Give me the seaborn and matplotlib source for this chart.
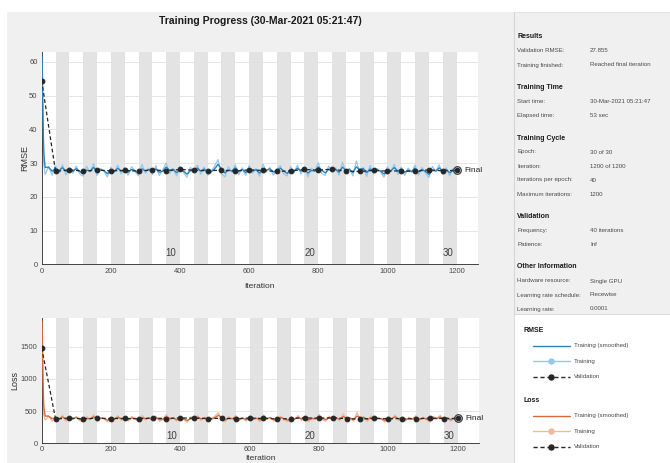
import pandas as pd
import seaborn as sns
import matplotlib
import matplotlib.pyplot as plt
from matplotlib.patches import Rectangle

matplotlib.use('Agg')

# Goal: redraw the MATLAB "Training Progress" window (RMSE + loss curves, info panel)

iters_per_epoch = 40
n_epochs = 30

train_iter = [1, 2, 3, 4, 5, 6, 8] + list(range(10, 1201, 10))

rmse_train = [
    61.5, 52.0, 43.0, 36.0, 31.5, 29.5, 28.2,
    26.6, 28.9, 26.4, 29.2, 27.1, 29.5, 26.5, 28.6, 27.0, 29.1,
    26.8, 26.1, 29.0, 27.3, 29.8, 26.3, 28.4, 27.6, 25.9, 28.8,
    27.2, 29.4, 26.8, 28.7, 26.4, 28.9, 27.5, 26.2, 29.6, 27.0,
    28.5, 26.6, 29.2, 26.3, 27.9, 30.0, 26.9, 28.4, 26.2, 29.0,
    27.2, 25.8, 28.7, 27.6, 29.4, 26.7, 28.8, 26.4, 27.5, 29.1,
    31.0, 26.8, 25.9, 28.9, 27.3, 29.5, 26.6, 28.6, 26.3, 29.3,
    27.0, 28.4, 26.1, 29.7, 27.4, 28.7, 26.4, 28.2, 29.2, 26.8,
    26.2, 29.0, 27.2, 29.4, 26.7, 28.8, 25.9, 28.5, 27.5, 30.1,
    26.9, 26.3, 29.1, 27.3, 28.6, 26.4, 30.3, 27.0, 28.4, 26.2,
    30.6, 27.2, 28.7, 26.0, 29.3, 26.8, 28.4, 27.4, 25.8, 28.9,
    27.6, 29.6, 26.6, 28.8, 26.3, 28.5, 27.2, 29.4, 26.4, 28.7,
    27.0, 25.7, 29.0, 27.5, 29.5, 26.6, 28.6, 26.2, 28.4, 27.6,
]

loss_train = [
    1900, 1350, 925, 650, 495, 435, 398,
    358, 420, 345, 410, 366, 436, 342, 401, 372, 418,
    352, 335, 415, 370, 445, 348, 398, 381, 332, 412,
    372, 430, 356, 405, 344, 416, 380, 338, 434, 362,
    402, 350, 422, 342, 378, 448, 360, 396, 344, 414,
    368, 330, 410, 382, 428, 355, 406, 347, 380, 422,
    472, 357, 334, 414, 374, 432, 352, 400, 343, 426,
    364, 394, 338, 440, 376, 406, 348, 390, 420, 360,
    340, 416, 370, 430, 354, 408, 333, 402, 380, 452,
    362, 346, 420, 374, 404, 349, 458, 366, 396, 342,
    478, 371, 408, 337, 426, 358, 398, 378, 330, 414,
    382, 438, 353, 410, 345, 402, 372, 431, 350, 406,
    366, 326, 418, 380, 434, 355, 403, 343, 396, 376,
]

# validation every 40 iterations
val_iter = list(range(0, 1201, 40))
rmse_val = [54.4, 27.5, 28.0, 27.6, 27.9, 27.7, 27.8, 27.6, 28.0, 27.7, 28.1,
            27.9, 27.7, 27.9, 27.6, 28.0, 27.8, 27.5, 27.7, 28.1, 27.9,
            28.2, 27.6, 27.5, 27.8, 27.6, 27.7, 27.5, 28.0, 27.7, 27.855]
loss_val = [1480, 378, 392, 381, 390, 384, 386, 381, 392, 384, 395,
            389, 384, 389, 381, 392, 386, 378, 384, 395, 389,
            398, 381, 378, 386, 381, 384, 378, 392, 384, 388]

info_sections = [
    ('Results', [('Validation RMSE:', '27.855'),
                 ('Training finished:', 'Reached final iteration')]),
    ('Training Time', [('Start time:', '30-Mar-2021 05:21:47'),
                       ('Elapsed time:', '53 sec')]),
    ('Training Cycle', [('Epoch:', '30 of 30'),
                        ('Iteration:', '1200 of 1200'),
                        ('Iterations per epoch:', '40'),
                        ('Maximum iterations:', '1200')]),
    ('Validation', [('Frequency:', '40 iterations'),
                    ('Patience:', 'Inf')]),
    ('Other Information', [('Hardware resource:', 'Single GPU'),
                           ('Learning rate schedule:', 'Piecewise'),
                           ('Learning rate:', '0.0001')]),
]

BLUE = '#2a84c2'
BLUE_LIGHT = '#94c9ec'
ORANGE = '#dc6a3c'
ORANGE_LIGHT = '#f2b89b'
VAL = '#262626'
BG = '#f0f0f0'


def smooth(values):
    """MATLAB style exponential smoothing of the training curve"""
    return pd.Series(values).ewm(alpha=0.5, adjust=False).mean().values


def draw_panel(ax, y_train, y_val, color, color_light, ylim, yticks, ylabel, ep_y):
    """draw one training progress axes (bands, raw, smoothed, validation)"""
    for k in range(0, n_epochs, 2):
        ax.axvspan((k + 1) * iters_per_epoch, (k + 2) * iters_per_epoch,
                   color='#e3e3e3', lw=0, zorder=0)
    df = pd.DataFrame({'iter': train_iter, 'raw': y_train, 'smooth': smooth(y_train)})
    sns.lineplot(data=df, x='iter', y='raw', ax=ax, color=color_light, lw=0.9, zorder=2)
    sns.lineplot(data=df, x='iter', y='smooth', ax=ax, color=color, lw=1.0, zorder=3)
    vdf = pd.DataFrame({'iter': val_iter, 'val': y_val})
    sns.lineplot(data=vdf, x='iter', y='val', ax=ax, color=VAL, lw=0.9,
                 linestyle=(0, (3, 2)), marker='o', markersize=3.4,
                 markeredgecolor=VAL, zorder=4)
    ax.plot(val_iter[-1], y_val[-1], marker='o', ms=5.5, mfc='none', mec='#333333',
            mew=0.8, clip_on=False, zorder=5)
    ax.text(val_iter[-1] + 22, y_val[-1], 'Final', va='center', ha='left',
            fontsize=6, color='#262626')
    for ep in (10, 20, 30):
        ax.text(ep * iters_per_epoch - 10, ep_y, str(ep), ha='right', va='center',
                fontsize=7, color='#404040')

    ax.set_xlim(0, 1262)
    ax.set_ylim(*ylim)
    ax.set_xticks(range(0, 1201, 200))
    ax.set_yticks(yticks)
    ax.set_facecolor('white')
    ax.yaxis.grid(True, color='#e2e2e2', lw=0.6)
    ax.xaxis.grid(False)
    ax.set_axisbelow(True)
    for s in ('top', 'right'):
        ax.spines[s].set_visible(False)
    for s in ('left', 'bottom'):
        ax.spines[s].set_color('#262626')
        ax.spines[s].set_linewidth(0.6)
    ax.tick_params(direction='in', length=3, width=0.5, labelsize=5.5,
                   colors='#262626', labelcolor='#4a4a4a', pad=3)
    ax.set_xlabel('Iteration', fontsize=6, color='#333333')
    ax.set_ylabel(ylabel, fontsize=6.5, color='#333333')


def plot_graph(fig_location: str = None):
    sns.set_theme(style='white')
    plt.rcParams['font.family'] = ['Liberation Sans Narrow', 'Liberation Sans', 'DejaVu Sans']

    fig = plt.figure(figsize=(6.7, 4.63), dpi=100)
    fig.patch.set_facecolor('white')

    # background in pixel coordinates
    bg = fig.add_axes([0, 0, 1, 1])
    bg.set_xlim(0, 670)
    bg.set_ylim(463, 0)
    bg.axis('off')
    bg.add_patch(Rectangle((7, 12), 663, 451, color=BG, lw=0))
    bg.plot([514, 514], [12, 463], color='#d6d6d6', lw=0.8)
    bg.plot([514, 670], [12, 12], color='#e0e0e0', lw=0.6)
    bg.text(260, 21, 'Training Progress (30-Mar-2021 05:21:47)', ha='center', va='center',
            fontsize=7.5, fontweight='bold', color='#1a1a1a')

    # info panel text
    y = 37
    for head, rows in info_sections:
        bg.text(517, y, head, fontsize=5.0, fontweight='bold', va='center', color='#1a1a1a')
        y += 14
        for label, value in rows:
            bg.text(517, y, label, fontsize=4.4, va='center', color='#4a4a4a')
            bg.text(590, y, value, fontsize=4.4, va='center', color='#4a4a4a')
            y += 14
        y += 8.5

    ax1 = fig.add_axes([41.7 / 670, 1 - 264.3 / 463, (478 - 41.7) / 670, (264.3 - 52) / 463])
    draw_panel(ax1, rmse_train, rmse_val, BLUE, BLUE_LIGHT, (0, 62.9),
               range(0, 61, 10), 'RMSE', 3.3)
    ax1.yaxis.set_label_coords(-0.029, 0.5)
    ax1.xaxis.set_label_coords(0.5, -0.088)

    ax2 = fig.add_axes([41.7 / 670, 1 - 443.3 / 463, (479 - 41.7) / 670, (443.3 - 318) / 463])
    draw_panel(ax2, loss_train, loss_val, ORANGE, ORANGE_LIGHT, (0, 1946),
               [0, 500, 1000, 1500], 'Loss', 113)
    ax2.tick_params(axis='x', pad=2)
    ax2.yaxis.set_label_coords(-0.052, 0.5)
    ax2.xaxis.set_label_coords(0.5, -0.092)

    # legend box
    leg = fig.add_axes([514 / 670, 0, 156 / 670, (463 - 314) / 463])
    leg.set_xlim(514, 670)
    leg.set_ylim(463, 314)
    leg.set_facecolor('white')
    leg.set_xticks([])
    leg.set_yticks([])
    for s in leg.spines.values():
        s.set_color('#d6d6d6')
        s.set_linewidth(0.6)
    for name, y0, c, cl in (('RMSE', 331, BLUE, BLUE_LIGHT), ('Loss', 401, ORANGE, ORANGE_LIGHT)):
        leg.text(523, y0, name, fontsize=5.0, fontweight='bold', va='center', color='#1a1a1a')
        entries = [('Training (smoothed)', c, '-', None),
                   ('Training', cl, '-', cl),
                   ('Validation', VAL, (0, (3, 2)), VAL)]
        for i, (lab, col, ls, mc) in enumerate(entries):
            yy = y0 + 14.5 + i * 15.7
            leg.plot([533, 570], [yy, yy], color=col, ls=ls, lw=1.0)
            if mc:
                leg.plot([551], [yy], marker='o', ms=3.6, color=mc, mec=mc)
            leg.text(574, yy, lab, fontsize=4.4, va='center', color='#4a4a4a')

    if fig_location:
        fig.savefig(fig_location, dpi=100)


if __name__ == "__main__":
    plot_graph(fig_location="out.png")
